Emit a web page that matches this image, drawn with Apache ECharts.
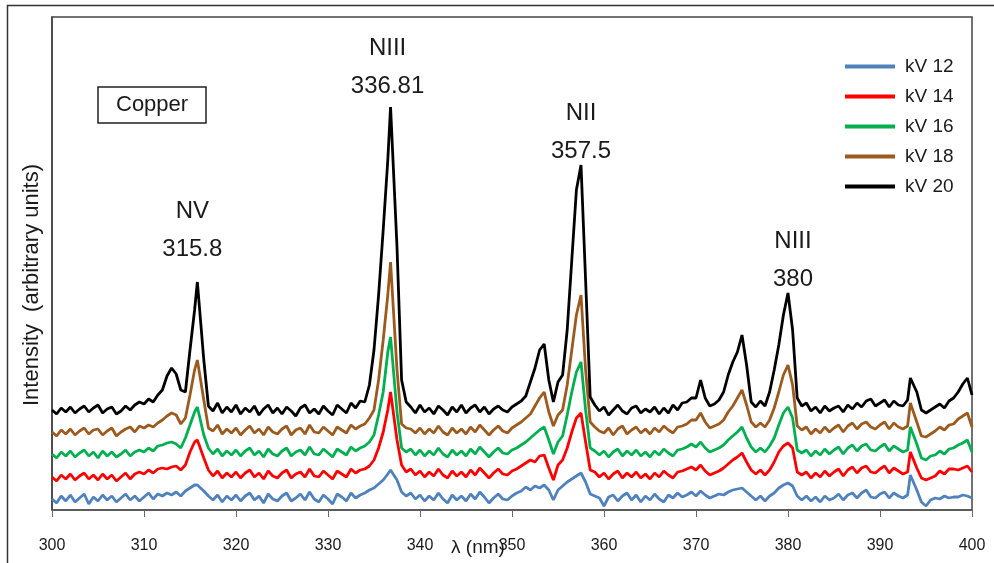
<!DOCTYPE html>
<html><head><meta charset="utf-8">
<script src="https://cdn.jsdelivr.net/npm/echarts@6/dist/echarts.min.js"></script>
<style>html,body{margin:0;padding:0;background:#fff}#c{width:994px;height:563px}</style>
</head><body><div id="c"></div>
<script>
const wavelengths = [
300,300.5,301,301.5,302,302.5,303,303.5,304,304.5,
305,305.5,306,306.5,307,307.5,308,308.5,309,309.5,
310,310.5,311,311.5,312,312.5,313,313.5,314,314.5,
315,315.5,315.8,316.5,317,317.5,318,318.5,319,319.5,
320,320.5,321,321.5,322,322.5,323,323.5,324,324.5,
325,325.5,326,326.5,327,327.5,328,328.5,329,329.5,
330,330.5,331,331.5,332,332.5,333,333.5,334,334.5,
335,335.5,336,336.5,336.8,337.5,338,338.5,339,339.5,
340,340.5,341,341.5,342,342.5,343,343.5,344,344.5,
345,345.5,346,346.5,347,347.5,348,348.5,349,349.5,
350,350.5,351,351.5,352,352.5,353,353.5,354,354.5,
355,355.5,356,356.5,357,357.5,358,358.5,359,359.5,
360,360.5,361,361.5,362,362.5,363,363.5,364,364.5,
365,365.5,366,366.5,367,367.5,368,368.5,369,369.5,
370,370.5,371,371.5,372,372.5,373,373.5,374,374.5,
375,375.5,376,376.5,377,377.5,378,378.5,379,379.5,
380,380.5,381,381.5,382,382.5,383,383.5,384,384.5,
385,385.5,386,386.5,387,387.5,388,388.5,389,389.5,
390,390.5,391,391.5,392,392.5,393,393.3,394,394.5,
395,395.5,396,396.5,397,397.5,398,398.5,399,399.5,400];

const kv20 = [
100,96,102,98,103,97,101,104,98,102,
105,97,101,103,96,99,104,100,105,108,
106,111,108,115,120,134,142,136,120,118,
160,200,228,150,104,99,107,97,103,98,
105,96,102,98,104,95,101,105,97,102,
96,103,99,94,102,105,97,101,96,104,
99,95,105,101,97,107,102,109,108,125,
160,215,280,350,403,263,130,108,103,97,
105,98,102,96,104,100,95,103,98,105,
97,102,105,98,103,96,101,104,100,98,
103,106,109,114,128,142,160,166,130,108,
128,135,180,250,320,345,230,113,105,99,
103,95,100,105,99,96,102,104,97,101,
98,103,96,102,97,105,100,107,108,112,
112,130,112,104,106,110,118,135,148,158,
175,145,108,103,109,104,118,140,165,195,
217,180,112,104,107,99,103,97,104,99,
102,104,98,105,101,107,103,109,111,104,
107,110,103,109,105,104,110,132,118,100,
97,100,103,106,102,109,112,118,126,132,115];

const kv18 = [
78,74,80,76,81,75,79,82,76,80,
81,75,79,82,74,78,81,83,78,84,
82,85,83,87,90,94,97,95,86,92,
115,140,150,110,82,79,85,76,81,77,
82,75,80,84,77,81,75,83,78,76,
81,84,75,80,82,76,85,78,77,83,
79,75,83,80,77,85,81,84,86,92,
100,130,170,215,248,140,86,82,81,77,
82,76,81,77,84,78,75,82,77,81,
76,83,78,85,80,75,80,84,79,77,
82,85,88,92,96,104,112,118,98,84,
95,100,125,160,195,215,140,88,83,79,
77,82,75,81,84,76,80,83,77,81,
76,82,78,84,80,77,83,84,86,90,
90,97,88,82,84,86,90,98,104,112,
120,105,88,83,87,83,90,102,118,135,
145,125,84,80,83,76,81,77,83,78,
82,85,78,84,87,81,86,88,83,81,
85,88,81,87,83,81,84,107,88,74,
73,76,79,83,80,85,86,91,94,97,83];

const kv16 = [
56,52,58,54,59,53,57,60,54,58,
52,59,54,58,53,56,60,54,58,60,
58,62,59,64,65,67,68,66,62,72,
85,98,103,75,62,56,61,54,59,55,
60,54,59,62,55,59,53,61,56,54,
59,62,54,58,60,55,63,56,55,61,
57,53,61,58,55,63,59,62,64,68,
75,95,118,158,173,98,62,58,61,55,
60,54,59,55,62,56,53,60,55,59,
54,61,56,63,58,53,58,62,57,56,
60,62,65,68,72,76,80,83,70,56,
68,74,95,118,138,148,100,62,59,55,
59,53,58,61,54,59,55,60,54,58,
53,59,55,61,57,54,60,61,63,66,
63,68,62,58,60,62,65,70,74,78,
83,72,63,58,62,58,64,72,85,97,
103,92,60,57,60,54,59,55,61,56,
60,63,56,62,65,59,64,66,60,59,
63,66,59,64,61,58,60,83,66,52,
50,54,55,59,56,61,62,65,67,70,58];

const kv14 = [
33,29,35,31,36,30,34,37,31,35,
30,36,31,35,29,33,37,31,36,38,
36,40,37,41,42,41,43,44,40,45,
58,68,70,52,40,34,39,32,37,33,
38,32,37,40,33,37,31,39,34,32,
37,40,32,36,38,33,41,34,33,39,
35,31,39,36,33,41,37,40,41,44,
50,62,78,100,118,70,45,38,41,35,
39,33,38,34,41,35,32,39,34,38,
33,40,35,42,37,32,37,41,36,35,
39,41,44,47,50,48,54,55,42,30,
45,50,62,78,92,97,68,40,38,33,
37,31,36,39,32,37,33,38,32,36,
31,37,33,39,35,32,38,39,41,43,
40,45,39,35,37,39,42,46,50,53,
57,48,40,36,40,35,40,48,58,64,
67,62,38,35,38,32,37,33,39,34,
38,41,34,40,43,37,42,44,38,37,
41,44,37,42,39,36,38,58,42,32,
30,32,34,39,36,41,41,40,42,44,38];

const kv12 = [
11,7,14,9,15,8,12,16,6,13,
9,15,10,14,8,12,16,10,14,9,
13,17,11,16,14,17,15,18,14,19,
22,25,25,19,14,10,15,8,14,10,
15,9,14,17,10,14,7,16,11,9,
14,17,9,12,16,10,18,11,8,15,
11,6,16,13,9,17,12,15,17,20,
22,26,30,36,40,30,18,14,17,11,
15,9,14,10,17,11,7,15,10,14,
9,16,11,18,13,7,12,16,11,10,
14,17,19,23,20,24,22,25,20,10,
20,24,28,31,34,37,28,16,14,12,
4,13,15,9,14,17,10,15,8,14,
10,16,11,8,15,12,17,13,15,18,
14,19,15,12,14,16,15,18,20,21,
22,18,14,10,14,9,14,17,22,25,
27,24,14,10,14,9,13,8,14,10,
12,16,10,15,17,12,17,20,13,12,
16,18,12,17,14,12,15,35,20,8,
4,10,12,11,14,12,13,13,15,14,12];

const seriesNames = ['kV 12','kV 14','kV 16','kV 18','kV 20'];
const seriesValues = [kv12, kv14, kv16, kv18, kv20];
const seriesColors = ['#4f81bd','#ff0000','#00b050','#9c5a1e','#000000'];

const peakLines = ['NV','NIII','NII','NIII'];
const peakWavelengths = [315.8, 336.8, 357.5, 380];
const peakTexts = ['315.8','336.81','357.5','380'];
const peakOffsets = [[-5,-52],[-3,-40],[0,-33],[5,-33]];

const chart = echarts.init(document.getElementById('c'), null, {renderer:'canvas'});

const series = seriesNames.map((name, si) => {
  const s = {
    name: name,
    type: 'line',
    data: wavelengths.map((w, i) => [w, seriesValues[si][i]]),
    showSymbol: false,
    symbol: 'none',
    lineStyle: {color: seriesColors[si], width: 2.8},
    itemStyle: {color: seriesColors[si]},
    z: 2 + si,
    animation: false
  };
  if (name === 'kV 20') {
    s.markPoint = {
      symbol: 'circle', symbolSize: 0, animation: false,
      data: peakWavelengths.map((w, k) => {
        const idx = wavelengths.indexOf(w);
        return {
          coord: [w, kv20[idx]],
          label: {
            show: true, position: 'inside', offset: peakOffsets[k],
            formatter: peakLines[k] + '\n' + peakTexts[k],
            fontFamily: 'Liberation Sans', fontSize: 24, lineHeight: 38,
            color: '#1a1a1a', align: 'center'
          }
        };
      })
    };
  }
  return s;
});

chart.setOption({
  backgroundColor: '#ffffff',
  animation: false,
  title: {
    text: 'Copper', left: 98, top: 87,
    padding: [7, 18],
    borderColor: '#222', borderWidth: 1.5,
    textStyle: {fontFamily: 'Liberation Sans', fontSize: 22, fontWeight: 'normal', color: '#1a1a1a'}
  },
  legend: {
    data: seriesNames,
    orient: 'vertical', left: 840, top: 52,
    itemWidth: 50, itemHeight: 4, itemGap: 11,
    icon: 'rect',
    textStyle: {fontFamily: 'Liberation Sans', fontSize: 19, color: '#1a1a1a', padding: [0,0,0,5]}
  },
  grid: {
    left: 52, right: 22, top: 17, bottom: 53,
    outerBoundsMode: 'none', containLabel: false,
    show: true, borderColor: '#444', borderWidth: 1.5, backgroundColor: 'transparent'
  },
  xAxis: {
    type: 'value', min: 300, max: 400, interval: 10,
    axisLine: {show: true, lineStyle: {color: '#555', width: 1.5}},
    axisTick: {show: true, length: 7, lineStyle: {color: '#666'}},
    axisLabel: {fontFamily: 'Liberation Sans', fontSize: 16, color: '#1a1a1a', margin: 28},
    splitLine: {show: false}
  },
  yAxis: {
    type: 'value', min: 0, max: 493,
    axisLine: {show: true, lineStyle: {color: '#444', width: 1.5}},
    axisTick: {show: false}, axisLabel: {show: false}, splitLine: {show: false}
  },
  graphic: [{
    type: 'rect', left: 5, top: 3, silent: true,
    shape: {width: 1000, height: 600},
    style: {fill: 'none', stroke: '#333', lineWidth: 1.5}
  }, {
    type: 'text', x: 32, y: 285, rotation: Math.PI / 2, silent: true,
    style: {text: 'Intensity  (arbitrary units)', fontFamily: 'Liberation Sans', fontSize: 22,
      fill: '#1a1a1a', align: 'center', verticalAlign: 'middle'}
  }, {
    type: 'text', x: 478, y: 548, silent: true, z: 10,
    style: {text: 'λ (nm)', fontFamily: 'Liberation Sans', fontSize: 19,
      fill: '#1a1a1a', align: 'center', verticalAlign: 'middle'}
  }],
  series: series
});
</script>
</body></html>
